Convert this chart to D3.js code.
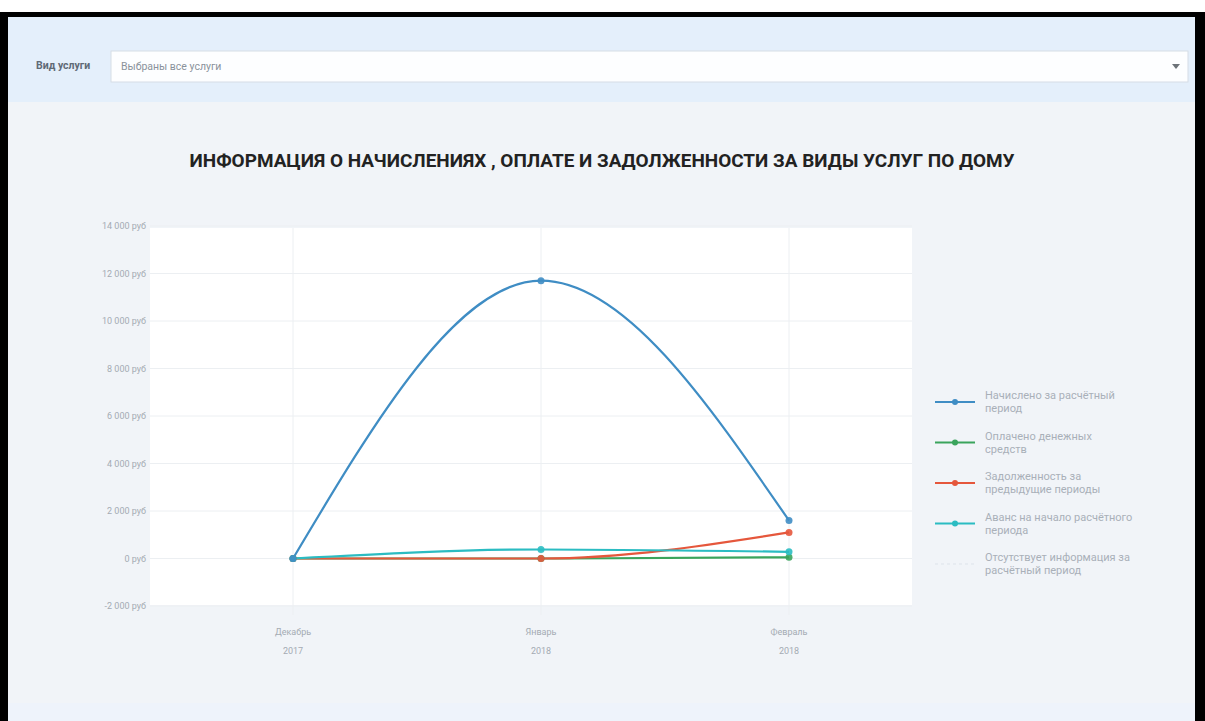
<!DOCTYPE html>
<html>
<head>
    <meta charset="utf-8">
    <title></title>
    <style>
        body {
            margin: 0;
            background: #fff;
        }
        text {
            font-family: Roboto, "Noto Sans", sans-serif;
        }
        .axis-label {
            fill: #a4abb3;
            font-size: 9px;
        }
        .legend-label {
            fill: #a9b0b8;
            font-size: 11px;
        }
    </style>
</head>
<body>
    <script src="https://cdnjs.cloudflare.com/ajax/libs/d3/7.8.5/d3.min.js"></script>
    <script>
        var months = [["Декабрь", "2017"], ["Январь", "2018"], ["Февраль", "2018"]];
        var yTicks = [-2000, 0, 2000, 4000, 6000, 8000, 10000, 12000, 14000];
        var charged = [0, 11700, 1600];
        var paid = [0, 0, 50];
        var debt = [0, 0, 1100];
        var advance = [0, 380, 280];
        var seriesNames = [
            ["Начислено за расчётный", "период"],
            ["Оплачено денежных", "средств"],
            ["Задолженность за", "предыдущие периоды"],
            ["Аванс на начало расчётного", "периода"],
            ["Отсутствует информация за", "расчётный период"]
        ];
        var seriesColors = ["#3f8dc4", "#3aa45c", "#e5573c", "#2bbcc2", "#dde3ea"];

        var width = 1205,
            height = 721;
        var svg = d3.select("body").append("svg")
            .attr("width", width)
            .attr("height", height);

        // frame and backgrounds
        svg.append("rect").attr("x", 0).attr("y", 0).attr("width", width).attr("height", height).attr("fill", "#fff");
        svg.append("rect").attr("x", 0).attr("y", 12).attr("width", width).attr("height", height - 12).attr("fill", "#000");
        svg.append("rect").attr("x", 8).attr("y", 17).attr("width", 1187).attr("height", height - 17).attr("fill", "#f1f4f8");
        svg.append("rect").attr("x", 8).attr("y", 17).attr("width", 1187).attr("height", 85).attr("fill", "#e4effb");
        svg.append("rect").attr("x", 8).attr("y", 703).attr("width", 1187).attr("height", 18).attr("fill", "#eef3fb");

        // filter bar
        svg.append("text")
            .attr("x", 36).attr("y", 69)
            .attr("font-size", "10.5px").attr("font-weight", "bold").attr("fill", "#5f6a76")
            .text("Вид услуги");
        svg.append("rect")
            .attr("x", 111).attr("y", 51).attr("width", 1077).attr("height", 31)
            .attr("fill", "#fdfeff").attr("stroke", "#d5dde6");
        svg.append("text")
            .attr("x", 121).attr("y", 70)
            .attr("font-size", "10.5px").attr("fill", "#8a929b")
            .text("Выбраны все услуги");
        svg.append("path")
            .attr("d", "M1172,64 L1180,64 L1176,69 Z")
            .attr("fill", "#6d7379");

        // title
        svg.append("text")
            .attr("x", 602).attr("y", 167)
            .attr("text-anchor", "middle")
            .attr("font-size", "19px").attr("font-weight", "bold").attr("fill", "#222")
            .attr("textLength", 825).attr("lengthAdjust", "spacingAndGlyphs")
            .text("ИНФОРМАЦИЯ О НАЧИСЛЕНИЯХ , ОПЛАТЕ И ЗАДОЛЖЕННОСТИ ЗА ВИДЫ УСЛУГ ПО ДОМУ");

        var x = d3.scalePoint()
            .domain(months.map(function(d) { return d[0] + " " + d[1]; }))
            .range([293, 789]);
        var y = d3.scaleLinear()
            .domain([-2000, 14000])
            .range([606, 226]);

        // plot area
        svg.append("rect")
            .attr("x", 150).attr("y", 228)
            .attr("width", 762).attr("height", 377)
            .attr("fill", "#fff");

        var fmt = function(v) {
            var s = d3.format(",")(Math.abs(v)).replace(/,/g, " ");
            return (v < 0 ? "-" : "") + s + " руб";
        };

        svg.append("g")
            .selectAll("line")
            .data(yTicks)
            .enter().append("line")
            .attr("x1", 150).attr("x2", 912)
            .attr("y1", function(d) { return y(d); })
            .attr("y2", function(d) { return y(d); })
            .attr("stroke", "#eceff2").attr("stroke-width", 1);
        svg.append("g")
            .selectAll("line")
            .data(x.domain())
            .enter().append("line")
            .attr("x1", function(d) { return x(d); })
            .attr("x2", function(d) { return x(d); })
            .attr("y1", 228).attr("y2", 615)
            .attr("stroke", "#eceff2").attr("stroke-width", 1);

        svg.append("g")
            .selectAll("text")
            .data(yTicks)
            .enter().append("text")
            .attr("class", "axis-label")
            .attr("x", 146)
            .attr("y", function(d) { return y(d) + 3; })
            .attr("text-anchor", "end")
            .text(fmt);

        var xl = svg.append("g")
            .selectAll("text")
            .data(months)
            .enter().append("text")
            .attr("class", "axis-label")
            .attr("text-anchor", "middle")
            .attr("x", function(d) { return x(d[0] + " " + d[1]); })
            .attr("y", 635);
        xl.append("tspan").text(function(d) { return d[0]; });
        xl.append("tspan")
            .attr("x", function(d) { return x(d[0] + " " + d[1]); })
            .attr("dy", 19)
            .text(function(d) { return d[1]; });

        // series
        var series = [charged, paid, debt, advance];
        var line = d3.line()
            .x(function(d, i) { return x.domain().map(x)[i]; })
            .y(function(d) { return y(d); })
            .curve(d3.curveMonotoneX);
        var drawOrder = [1, 2, 3, 0];
        drawOrder.forEach(function(k) {
            svg.append("path")
                .datum(series[k])
                .attr("d", line)
                .attr("fill", "none")
                .attr("stroke", seriesColors[k])
                .attr("stroke-width", 2.2);
        });
        drawOrder.forEach(function(k) {
            svg.append("g")
                .selectAll("circle")
                .data(series[k])
                .enter().append("circle")
                .attr("cx", function(d, i) { return x.domain().map(x)[i]; })
                .attr("cy", function(d) { return y(d); })
                .attr("r", 3.5)
                .attr("fill", seriesColors[k])
                .attr("opacity", 0.9);
        });

        // legend
        var legend = svg.append("g")
            .selectAll("g")
            .data(seriesNames)
            .enter().append("g")
            .attr("transform", function(d, i) { return "translate(935," + (402 + i * 40.5) + ")"; });
        legend.append("line")
            .attr("x1", 0).attr("x2", 40).attr("y1", 0).attr("y2", 0)
            .attr("stroke", function(d, i) { return seriesColors[i]; })
            .attr("stroke-width", function(d, i) { return i < 4 ? 2 : 1; })
            .attr("stroke-dasharray", function(d, i) { return i < 4 ? null : "3,3"; });
        legend.filter(function(d, i) { return i < 4; })
            .append("circle")
            .attr("cx", 20).attr("cy", 0).attr("r", 3)
            .attr("fill", function(d, i) { return seriesColors[i]; });
        var lt = legend.append("text")
            .attr("class", "legend-label")
            .attr("x", 50).attr("y", -3);
        lt.append("tspan").text(function(d) { return d[0]; });
        lt.append("tspan").attr("x", 50).attr("dy", 13).text(function(d) { return d[1]; });
    </script>
</body>
</html>
